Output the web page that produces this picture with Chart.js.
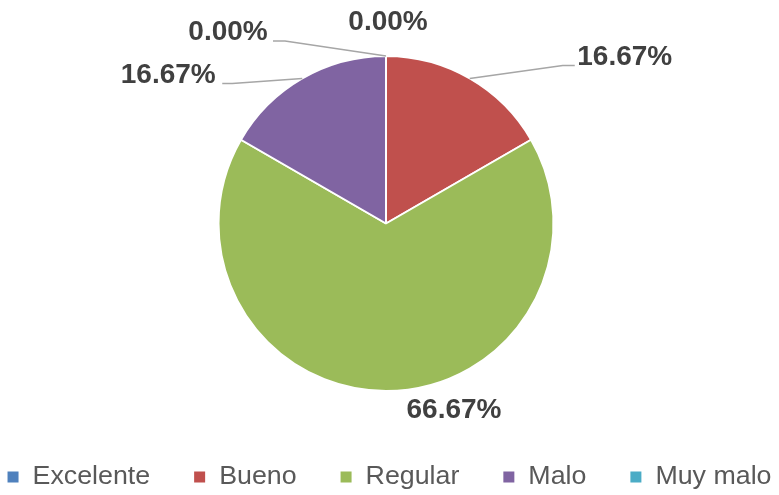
<!DOCTYPE html>
<html>
<head>
<meta charset="utf-8">
<script src="https://cdn.jsdelivr.net/npm/chart.js@4/dist/chart.umd.min.js"></script>
<style>
  html, body { margin: 0; padding: 0; background: #fff; }
  #wrap { width: 779px; height: 495px; position: relative; }
</style>
</head>
<body>
<div id="wrap"><canvas id="pie"></canvas></div>
<script>
// data
const categories = ["Excelente", "Bueno", "Regular", "Malo", "Muy malo"];
const counts = [0, 1, 4, 1, 0];
const colors = ["#4F81BD", "#C0504D", "#9BBB59", "#8064A2", "#4BACC6"];

// label placement relative to the slice's outer edge point (layout only)
const labelOffsets = [
  { dx: -158, dy: -24, line: [[-101, -15], [-113, -15]] },
  { dx: 155, dy: -21, line: [[93, -13], [105, -13]] },
  { dx: 68, dy: 19, line: null },
  { dx: -134, dy: -3, line: [[-70, 5], [-80, 5]] },
  { dx: 2, dy: -34, line: null },
];

// 📌 etichette percentuali con linee guida
const pieLabels = {
  id: "pieLabels",
  afterDatasetsDraw(chart) {
    const ctx = chart.ctx;
    const meta = chart.getDatasetMeta(0);
    const data = chart.data.datasets[0].data;
    const total = data.reduce((a, b) => a + b, 0);
    ctx.save();
    meta.data.forEach((arc, i) => {
      const p = arc.getProps(["x", "y", "startAngle", "endAngle", "outerRadius"], true);
      const mid = (p.startAngle + p.endAngle) / 2;
      const ex = p.x + Math.cos(mid) * p.outerRadius;
      const ey = p.y + Math.sin(mid) * p.outerRadius;
      const off = labelOffsets[i];
      if (off.line) {
        ctx.strokeStyle = "#A6A6A6";
        ctx.lineWidth = 1.5;
        ctx.beginPath();
        ctx.moveTo(ex, ey);
        ctx.lineTo(ex + off.line[0][0], ey + off.line[0][1]);
        ctx.lineTo(ex + off.line[1][0], ey + off.line[1][1]);
        ctx.stroke();
      }
      const pct = ((data[i] / total) * 100).toFixed(2) + "%";
      ctx.fillStyle = "#404040";
      ctx.font = "bold 28px 'Liberation Sans', Arial, sans-serif";
      ctx.textAlign = "center";
      ctx.textBaseline = "middle";
      ctx.fillText(pct, ex + off.dx, ey + off.dy);
    });
    ctx.restore();
  },
};

// 🏷️ legenda in basso, testo allargato come nell'originale
const bottomLegend = {
  id: "bottomLegend",
  afterDraw(chart) {
    const ctx = chart.ctx;
    const y = 477;
    const box = 11;
    const gapText = 14;
    const gapItem = 44;
    const stretch = 1.03;
    ctx.save();
    ctx.font = "26px 'Liberation Sans', Arial, sans-serif";
    ctx.textBaseline = "middle";
    ctx.textAlign = "left";
    const widths = categories.map((c) => ctx.measureText(c).width * stretch);
    let total = 0;
    widths.forEach((w, i) => {
      total += box + gapText + w + (i < widths.length - 1 ? gapItem : 0);
    });
    let x = (chart.width - total) / 2;
    categories.forEach((c, i) => {
      ctx.fillStyle = colors[i];
      ctx.fillRect(x, y - box / 2, box, box);
      x += box + gapText;
      ctx.save();
      ctx.translate(x, y);
      ctx.scale(stretch, 1);
      ctx.fillStyle = "#595959";
      ctx.fillText(c, 0, 0);
      ctx.restore();
      x += widths[i] + gapItem;
    });
    ctx.restore();
  },
};

new Chart(document.getElementById("pie"), {
  type: "pie",
  data: {
    labels: categories,
    datasets: [
      {
        data: counts,
        backgroundColor: colors,
        borderColor: "#ffffff",
        borderWidth: 2,
      },
    ],
  },
  options: {
    responsive: true,
    maintainAspectRatio: false,
    animation: false,
    layout: { padding: { top: 55, left: 0, right: 7, bottom: 103 } },
    plugins: {
      tooltip: { enabled: false },
      legend: { display: false },
    },
  },
  plugins: [pieLabels, bottomLegend],
});
</script>
</body>
</html>
